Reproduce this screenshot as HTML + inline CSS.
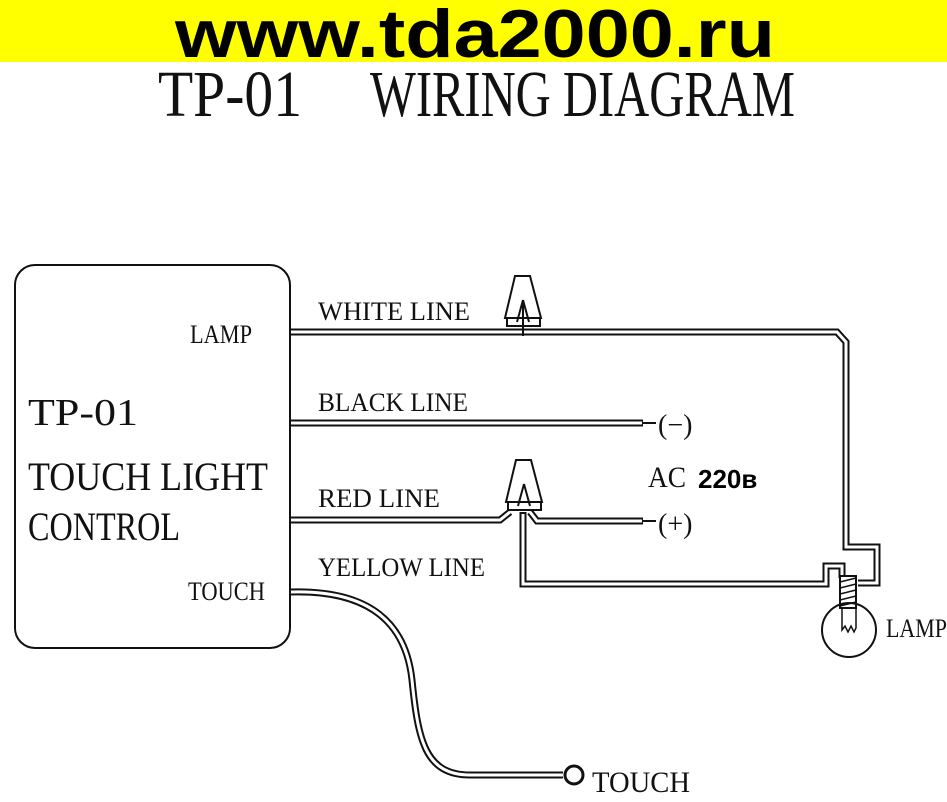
<!DOCTYPE html>
<html><head><meta charset="utf-8"><style>
html,body{margin:0;padding:0;background:#fff;width:947px;height:802px;overflow:hidden}
svg{display:block}
.s{font-family:"Liberation Serif",serif;fill:#111}
</style></head><body>
<svg width="947" height="802" viewBox="0 0 947 802" xmlns="http://www.w3.org/2000/svg">
<rect x="0" y="0" width="947" height="62" fill="#ffff00"/>
<text x="175" y="57" font-family="Liberation Sans,sans-serif" font-weight="bold" font-size="68" textLength="600" lengthAdjust="spacingAndGlyphs" fill="#000">www.tda2000.ru</text>
<text class="s" x="158" y="116" font-size="66" textLength="144" lengthAdjust="spacingAndGlyphs">TP-01</text>
<text class="s" x="370" y="116" font-size="66" textLength="425" lengthAdjust="spacingAndGlyphs">WIRING DIAGRAM</text>

<rect x="15" y="265" width="275" height="383" rx="20" fill="none" stroke="#111" stroke-width="2"/>
<text class="s" x="190" y="343" font-size="26" textLength="62" lengthAdjust="spacingAndGlyphs">LAMP</text>
<text class="s" x="28" y="425" font-size="38" textLength="110" lengthAdjust="spacingAndGlyphs">TP-01</text>
<text class="s" x="28" y="490" font-size="40" textLength="240" lengthAdjust="spacingAndGlyphs">TOUCH LIGHT</text>
<text class="s" x="28" y="540" font-size="40" textLength="152" lengthAdjust="spacingAndGlyphs">CONTROL</text>
<text class="s" x="188" y="600" font-size="26" textLength="77" lengthAdjust="spacingAndGlyphs">TOUCH</text>

<text class="s" x="318" y="320" font-size="26" textLength="152" lengthAdjust="spacingAndGlyphs">WHITE LINE</text>
<text class="s" x="318" y="411" font-size="26" textLength="150" lengthAdjust="spacingAndGlyphs">BLACK LINE</text>
<text class="s" x="318" y="507" font-size="26" textLength="122" lengthAdjust="spacingAndGlyphs">RED LINE</text>
<text class="s" x="318" y="576" font-size="26" textLength="167" lengthAdjust="spacingAndGlyphs">YELLOW LINE</text>

<g fill="none" stroke-linejoin="miter">
<g stroke="#111" stroke-width="7">
<path d="M290 332 H837 L846 342 V547 H877 V583 H858"/>
<path d="M290 423 H643"/>
<path d="M290 520 H500 L510 512 M530 512 L537 521 H643"/>
<path d="M523 512 V584 H826 V566 H842 V578"/>
<path d="M290 592 C360 590 405 615 412 680 C418 740 425 775 470 775 H563"/>
</g>
<g stroke="#fff" stroke-width="3">
<path d="M291 332 H837 L846 342 V547 H877 V583 H858"/>
<path d="M291 423 H642"/>
<path d="M291 520 H500 L510 512 M530 512 L537 521 H642"/>
<path d="M523 514 V584 H826 V566 H842 V578"/>
<path d="M291 592 C360 590 405 615 412 680 C418 740 425 775 470 775 H563"/>
</g>
</g>
<g stroke="#111" stroke-width="2">
<line x1="643" y1="423" x2="656" y2="423"/>
<line x1="643" y1="521" x2="656" y2="521"/>
<path d="M515 276 H530 L541 318 H505 Z" fill="#fff"/>
<rect x="507" y="318" width="33" height="8" fill="#fff"/>
<path d="M523 300 L517 322 M523 300 L529 322 M523 300 V336"/>
<path d="M516 460 H531 L542 502 H506 Z" fill="#fff"/>
<rect x="508" y="502" width="33" height="8" fill="#fff"/>
<path d="M524 484 L518 506 M524 484 L530 506"/>
<rect x="840" y="576" width="16" height="32" fill="#fff"/>
<path d="M840 582 L856 578 M840 588 L856 584 M840 594 L856 590 M840 600 L856 596 M840 606 L856 602" stroke-width="1.5"/>
<circle cx="849" cy="630" r="27" fill="none"/>
<path d="M842 608 V630 L845 626 L848 632 L851 626 L854 632 L856 628 V608" fill="none" stroke-width="1.5"/>
<circle cx="574" cy="775" r="9" fill="#fff" stroke-width="3"/>
</g>
<text class="s" x="658" y="434" font-size="28">(−)</text>
<text class="s" x="658" y="533" font-size="28">(+)</text>
<text class="s" x="648" y="487" font-size="30" textLength="38" lengthAdjust="spacingAndGlyphs">AC</text>
<text x="698" y="488" font-family="Liberation Sans,sans-serif" font-weight="bold" font-size="26" fill="#000">220в</text>
<text class="s" x="886" y="637" font-size="26" textLength="61" lengthAdjust="spacingAndGlyphs">LAMP</text>
<text class="s" x="592" y="792" font-size="30" textLength="98" lengthAdjust="spacingAndGlyphs">TOUCH</text>
</svg>
</body></html>
